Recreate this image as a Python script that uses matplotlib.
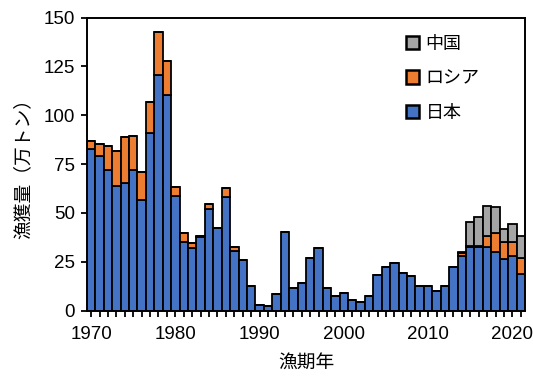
import matplotlib
matplotlib.use("Agg")
import matplotlib.pyplot as plt
import numpy as np

plt.rcParams['font.family'] = ['Liberation Sans', 'Noto Sans CJK JP', 'DejaVu Sans']

years = list(range(1970, 2022))
japan = [82.5, 79.0, 71.8, 63.6, 65.1, 71.8, 56.7, 91.1, 120.4, 110.4,
         58.4, 35.3, 32.2, 37.5, 51.8, 42.1, 58.3, 30.5, 25.9, 12.5,
         3.0, 2.3, 8.3, 40.2, 11.7, 14.2, 27.0, 31.8, 11.7, 7.4,
         9.0, 5.4, 4.5, 7.4, 18.2, 22.4, 24.5, 19.0, 17.7, 12.7,
         12.5, 10.0, 12.5, 22.1, 27.9, 32.7, 32.7, 32.7, 29.8, 26.2,
         27.9, 18.5]
russia = [4.1, 6.0, 12.4, 18.1, 23.7, 17.7, 14.4, 15.9, 22.3, 17.1,
          4.8, 4.6, 2.5, 0.5, 2.7, 0.0, 4.3, 1.9, 0.0, 0.0,
          0.0, 0.0, 0.0, 0.0, 0.0, 0.0, 0.0, 0.0, 0.0, 0.0,
          0.0, 0.0, 0.0, 0.0, 0.0, 0.0, 0.0, 0.0, 0.0, 0.0,
          0.0, 0.0, 0.0, 0.0, 1.5, 0.3, 0.3, 5.6, 10.0, 9.0,
          7.3, 8.2]
china = [0.0] * 44 + [0.6, 12.5, 15.0, 15.4, 13.4, 6.4, 9.1, 11.4]

c_japan = '#4472C4'
c_russia = '#ED7D31'
c_china = '#A5A5A5'

fig = plt.figure(figsize=(5.33, 3.85), dpi=100)
ax = fig.add_axes([0.163, 0.1935, 0.822, 0.761])

x = np.array(years)
jp = np.array(japan)
ru = np.array(russia)
cn = np.array(china)
kw = dict(width=1.0, edgecolor='black', linewidth=1.3)
ax.bar(x, jp, color=c_japan, label='日本', **kw)
ax.bar(x, ru, bottom=jp, color=c_russia, label='ロシア', **kw)
ax.bar(x, cn, bottom=jp + ru, color=c_china, label='中国', **kw)

ax.set_xlim(1969.5, 2021.5)
ax.set_ylim(0, 150)
ax.set_yticks([0, 25, 50, 75, 100, 125, 150])
ax.set_xticks(years, minor=True)
ax.set_xticks([1970, 1980, 1990, 2000, 2010, 2020])
ax.tick_params(axis='both', which='both', direction='out', length=4.5, width=1.3, labelsize=13.5)
ax.tick_params(axis='x', which='major', pad=7)
ax.tick_params(axis='y', which='major', pad=4)
for s in ax.spines.values():
    s.set_linewidth(1.4)

ax.set_xlabel('漁期年', fontsize=13.5, labelpad=8)
ax.set_ylabel('漁獲量（万トン）', fontsize=13.5, labelpad=8)

h, l = ax.get_legend_handles_labels()
leg = ax.legend(h[::-1], l[::-1], loc='upper left', bbox_to_anchor=(0.728, 0.938),
                frameon=False, fontsize=13, handlelength=0.75, handleheight=0.75,
                handletextpad=0.35, labelspacing=0.98, borderpad=0, borderaxespad=0)
for p in leg.get_patches():
    p.set_linewidth(1.8)

fig.savefig('out.png', dpi=100)
